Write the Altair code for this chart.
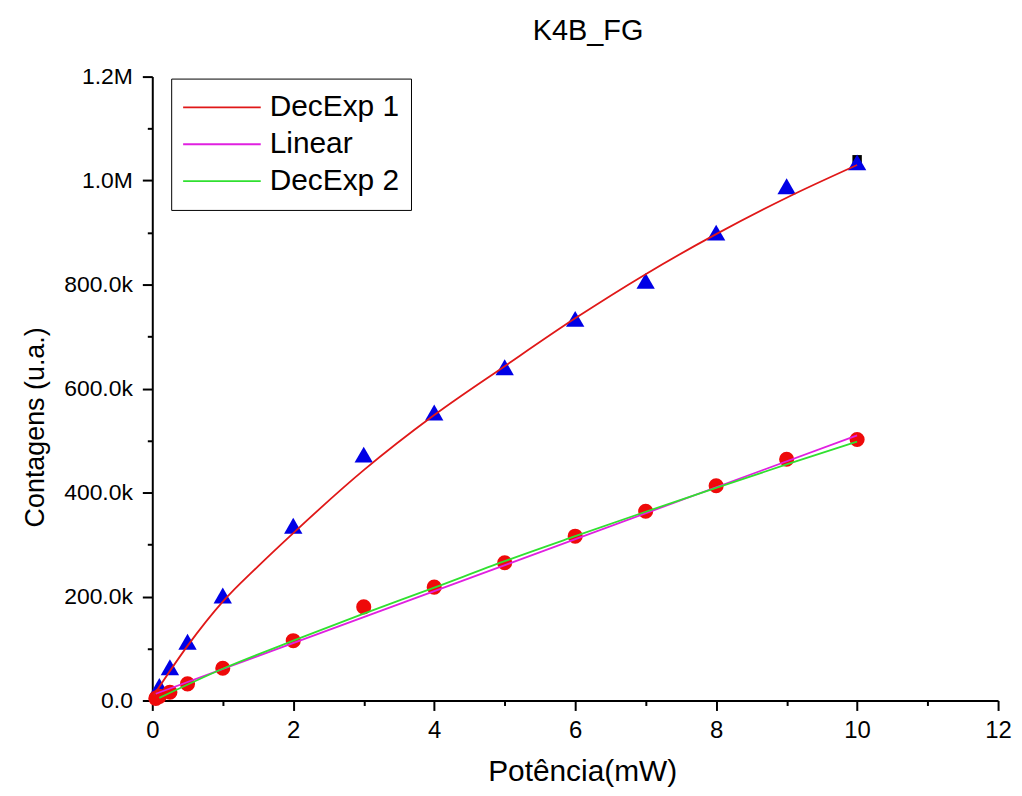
import altair as alt
import pandas as pd

# --- data ---
tri_x = [0.1, 0.25, 0.5, 1, 2, 3, 4, 5, 6, 7, 8, 9, 10]
tri_y = [28000, 64000, 113000, 202000, 336000, 473000, 554000, 641000, 734000, 807000, 900000, 989000, 1035000]

circ_x = [0.05, 0.1, 0.25, 0.5, 1, 2, 3, 4, 5, 6, 7, 8, 9, 10]
circ_y = [4000, 8000, 16000, 32000, 62000, 115000, 180000, 218000, 265000, 316000, 364000, 413000, 464000, 502000]

sq_x = [10]
sq_y = [1040000]

dec1_x = [0.02, 0.5, 1, 1.5, 2, 3, 4, 5, 6, 7, 8, 9, 10]
dec1_y = [10000, 105000, 190000, 258000, 322000, 443000, 549000, 643000, 735000, 820000, 897000, 967000, 1030000]

lin_x = [0.05, 10]
lin_y = [13000, 510000]

dec2_x = [0.1, 1, 2, 3, 4, 5, 6, 7, 8, 9, 10]
dec2_y = [5000, 61000, 115000, 167000, 217000, 268000, 316000, 363000, 409000, 454000, 498000]

series_names = ["DecExp 1", "Linear", "DecExp 2"]
series_colors = ["#e01818", "#e020e0", "#30e030"]

FONT = "Liberation Sans"

lines = pd.concat([
    pd.DataFrame({"x": dec1_x, "y": dec1_y, "s": series_names[0], "o": range(len(dec1_x))}),
    pd.DataFrame({"x": lin_x, "y": lin_y, "s": series_names[1], "o": range(len(lin_x))}),
    pd.DataFrame({"x": dec2_x, "y": dec2_y, "s": series_names[2], "o": range(len(dec2_x))}),
])
tri = pd.DataFrame({"x": tri_x, "y": tri_y})
circ = pd.DataFrame({"x": circ_x, "y": circ_y})
sq = pd.DataFrame({"x": sq_x, "y": sq_y})

x_scale = alt.Scale(domain=[0, 12], nice=False, zero=False)
y_scale = alt.Scale(domain=[0, 1200000], nice=False)

x_axis = alt.Axis(
    values=list(range(0, 13)),
    labelExpr="datum.value % 2 === 0 ? format(datum.value, 'd') : ''",
    tickSize={"condition": {"test": "datum.value % 2 === 0", "value": 10}, "value": 5},
    title="Potência(mW)",
    titleFont=FONT, titleFontSize=30, titleFontWeight="normal", titleColor="black",
    titlePadding=14, titleX=432,
    labelFont=FONT, labelFontSize=24, labelColor="black", labelPadding=8,
    labelFlush=False,
    domainColor="black", domainWidth=2, tickColor="black", tickWidth=2,
    grid=False,
)
y_axis = alt.Axis(
    values=list(range(0, 1200001, 100000)),
    labelExpr=("datum.value % 200000 !== 0 ? '' : datum.value === 0 ? '0.0' : "
               "datum.value >= 1000000 ? format(datum.value / 1000000, '.1f') + 'M' : "
               "format(datum.value / 1000, '.1f') + 'k'"),
    tickSize={"condition": {"test": "datum.value % 200000 === 0", "value": 10}, "value": 5},
    title="Contagens (u.a.)",
    titleFont=FONT, titleFontSize=27, titleFontWeight="normal", titleColor="black",
    titlePadding=14, titleY=352,
    labelFont=FONT, labelFontSize=23, labelColor="black", labelPadding=10,
    labelFlush=False,
    domainColor="black", domainWidth=2, tickColor="black", tickWidth=2,
    grid=False,
)

X = alt.X("x:Q", scale=x_scale, axis=x_axis)
Y = alt.Y("y:Q", scale=y_scale, axis=y_axis)

square_layer = alt.Chart(sq).mark_point(shape="square", filled=True, color="black", size=90, opacity=1).encode(
    x=alt.X("x:Q", scale=x_scale), y=alt.Y("y:Q", scale=y_scale))
tri_layer = alt.Chart(tri).mark_point(shape="triangle-up", filled=True, color="#0000e6", size=340, opacity=1).encode(
    x=alt.X("x:Q", scale=x_scale), y=alt.Y("y:Q", scale=y_scale))
circ_layer = alt.Chart(circ).mark_point(shape="circle", filled=True, color="#ee0a0a", size=230, opacity=1).encode(
    x=alt.X("x:Q", scale=x_scale), y=alt.Y("y:Q", scale=y_scale))

line_layer = alt.Chart(lines).mark_line(strokeWidth=1.8, interpolate="monotone").encode(
    x=X, y=Y,
    order="o:Q",
    color=alt.Color(
        "s:N",
        scale=alt.Scale(domain=series_names, range=series_colors),
        sort=series_names,
        legend=alt.Legend(
            orient="none", legendX=19, legendY=2,
            title=None,
            symbolType="stroke", symbolSize=6084, symbolStrokeWidth=1.8,
            labelFont=FONT, labelFontSize=30, labelColor="black", labelOffset=8,
            clipHeight=36, rowPadding=1,
            padding=11, strokeColor="black", fillColor="white",
        ),
    ),
)

chart = alt.layer(square_layer, tri_layer, circ_layer, line_layer).properties(
    width=850, height=627,
    title=alt.TitleParams("K4B_FG", font=FONT, fontSize=29, fontWeight="normal", color="black",
                          anchor="middle", offset=20, dx=13),
    autosize=alt.AutoSizeParams(type="none"),
    padding={"left": 145, "top": 67, "right": 16, "bottom": 86},
    background="white",
).configure_view(stroke=None)

chart.save("out.html", embed_options={"renderer": "svg", "actions": False})
